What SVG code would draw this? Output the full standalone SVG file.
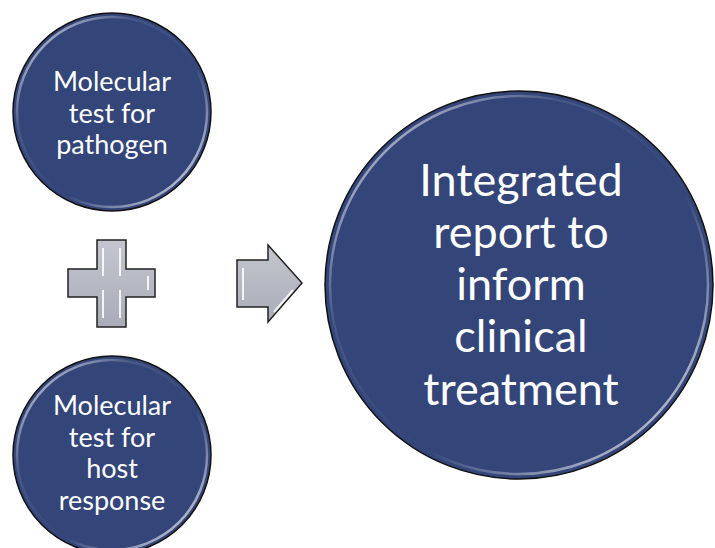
<svg xmlns="http://www.w3.org/2000/svg" width="715" height="548" viewBox="0 0 715 548">
<defs>
<linearGradient id="rim" x1="0" y1="0" x2="1" y2="1">
<stop offset="0" stop-color="#ffffff" stop-opacity="0.9"/>
<stop offset="0.3" stop-color="#ffffff" stop-opacity="0.1"/>
<stop offset="0.6" stop-color="#ffffff" stop-opacity="0"/>
<stop offset="0.9" stop-color="#ffffff" stop-opacity="0.7"/>
<stop offset="1" stop-color="#ffffff" stop-opacity="0.3"/>
</linearGradient>
<linearGradient id="grey" x1="0" y1="0" x2="0" y2="1">
<stop offset="0" stop-color="#c4c6cf"/>
<stop offset="1" stop-color="#a9acb8"/>
</linearGradient>
</defs>
<style>
.disc{fill:#334579;stroke:#111;stroke-width:1.5}
.rim{fill:none;stroke:url(#rim);stroke-width:2.5}
.lbl{font-family:Lato,"Open Sans","Liberation Sans",sans-serif;fill:#fff;text-anchor:middle}
.sm{font-size:27px}
.lg{font-size:45px}
.shape{fill:url(#grey);stroke:#222;stroke-width:1.5;stroke-linejoin:miter}
.hl{fill:none;stroke:#fff;stroke-width:2;stroke-opacity:0.85}
</style>
<rect width="715" height="548" fill="#fff"/>
<g id="pathogen">
<circle class="disc" cx="112" cy="112" r="99"/>
<circle class="rim" cx="112" cy="112" r="95"/>
<text class="lbl sm" x="112" y="91">Molecular</text>
<text class="lbl sm" x="112" y="123">test for</text>
<text class="lbl sm" x="112" y="154">pathogen</text>
</g>
<g id="host">
<circle class="disc" cx="112" cy="455" r="99"/>
<circle class="rim" cx="112" cy="455" r="95"/>
<text class="lbl sm" x="112" y="415">Molecular</text>
<text class="lbl sm" x="112" y="447">test for</text>
<text class="lbl sm" x="112" y="478">host</text>
<text class="lbl sm" x="112" y="510">response</text>
</g>
<g id="plus">
<path class="shape" d="M97,240 H126 V269 H155 V297 H126 V327 H97 V297 H68 V269 H97 Z"/>
<path class="hl" d="M103,248 V276 M120,248 V276 M103,290 V318 M120,290 V318 M148,276 V290"/>
</g>
<g id="report">
<circle class="disc" cx="519" cy="285" r="194"/>
<circle class="rim" cx="519" cy="285" r="189"/>
<text class="lbl lg" x="521" y="196">Integrated</text>
<text class="lbl lg" x="521" y="248">report to</text>
<text class="lbl lg" x="521" y="300">inform</text>
<text class="lbl lg" x="521" y="352">clinical</text>
<text class="lbl lg" x="521" y="405">treatment</text>
</g>
<g id="connectors">
<path class="shape" d="M237,260 H268 V245 L302,283 L268,322 V307 H237 Z"/>
<path class="hl" d="M243,268 V300 M274,312 L293,290"/>
</g>
</svg>
